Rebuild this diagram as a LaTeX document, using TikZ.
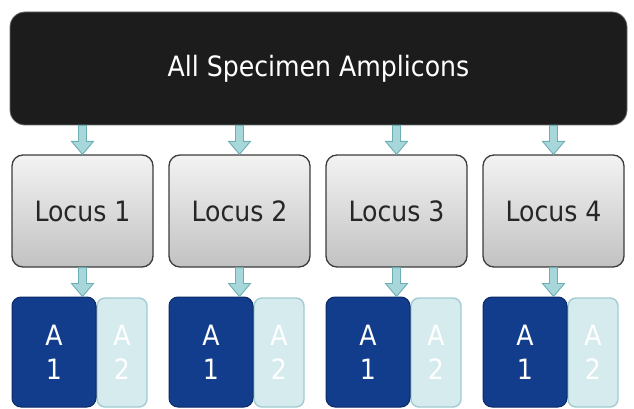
\documentclass[tikz,border=0pt]{standalone}
\usepackage{fontspec}
\setmainfont{DejaVu Sans Condensed}
\usetikzlibrary{calc}

\definecolor{topfill}{HTML}{1C1C1C}
\definecolor{topline}{HTML}{6A6A6A}
\definecolor{locusline}{HTML}{3C3C3C}
\definecolor{locustop}{HTML}{F3F3F3}
\definecolor{locusbot}{HTML}{C2C2C2}
\definecolor{alleleone}{HTML}{123C8C}
\definecolor{alleleoneline}{HTML}{0B2A66}
\definecolor{alleletwo}{HTML}{D5EBEE}
\definecolor{alleletwoline}{HTML}{A2CCD1}
\definecolor{arrowfill}{HTML}{A8D7DB}
\definecolor{arrowline}{HTML}{6DAEB3}

\tikzset{
  bigfont/.style={font=\fontsize{28}{34}\selectfont},
  sourcebox/.style={draw=topline, line width=0.8pt, fill=topfill, rounded corners=15pt,
    minimum width=617pt, minimum height=113pt, inner sep=0pt, text=white, bigfont},
  locusbox/.style={draw=locusline, line width=1.3pt, rounded corners=11pt,
    top color=locustop, bottom color=locusbot,
    minimum width=141pt, minimum height=112pt, inner sep=0pt, text=black!85, bigfont},
  allelemain/.style={draw=alleleoneline, line width=1pt, fill=alleleone, rounded corners=9pt,
    minimum width=84pt, minimum height=110pt, inner sep=0pt, text=white, align=center, bigfont},
  allelealt/.style={draw=alleletwoline, line width=1.4pt, fill=alleletwo, rounded corners=8pt,
    minimum width=50pt, minimum height=109pt, inner sep=0pt, text=white, align=center, bigfont},
  flowarrow/.style={draw=arrowline, line width=0.9pt, fill=arrowfill, line join=miter},
}

% lowered line of text inside a node
\newcommand\low[1]{\raisebox{-3pt}{#1}}

% block arrow pointing down, from #1 to #2 (same x)
\newcommand\blockarrow[2]{%
  \path[flowarrow] let \p1=(#1), \p2=(#2) in
    ({\x1-4pt},{\y1}) -- ({\x1-4pt},{\y2+13pt}) -- ({\x1-11pt},{\y2+13pt}) --
    ({\x1},{\y2}) -- ({\x1+11pt},{\y2+13pt}) -- ({\x1+4pt},{\y2+13pt}) --
    ({\x1+4pt},{\y1}) -- cycle;}

\begin{document}
\begin{tikzpicture}[x=1pt,y=-1pt]
  \useasboundingbox (0,0) rectangle (634,409);
  \fill[white] (0,0) rectangle (634,409);

  \node[sourcebox] (src) at (318.5,68.5) {\low{All Specimen Amplicons}};

  \foreach \i in {1,...,4} {
    \pgfmathsetmacro\dx{157*(\i-1)}
    \node[locusbox] (L\i) at (82.5+\dx,211) {\raisebox{-1pt}{Locus \i}};
    \node[allelealt] (B\i) at (122+\dx,352.5) {\low{A}\\\low{2}};
    \node[allelemain] (A\i) at (54+\dx,352) {\low{A}\\\low{1}};
  }

  \foreach \i in {1,...,4} {
    \blockarrow{src.south -| L\i.north}{L\i.north}
    \blockarrow{L\i.south}{L\i.south |- A\i.north}
  }
\end{tikzpicture}
\end{document}
